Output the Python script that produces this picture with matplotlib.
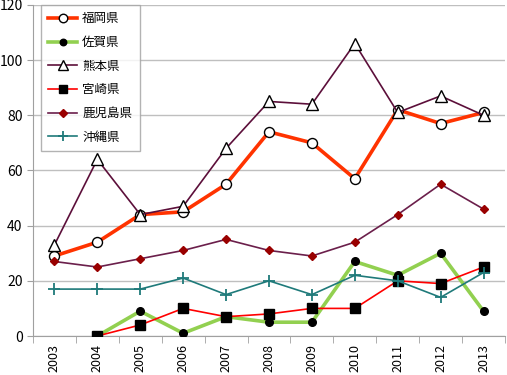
import numpy as np
import matplotlib
matplotlib.use("Agg")
import matplotlib.pyplot as plt

plt.rcParams['font.family'] = ['Noto Sans CJK JP', 'DejaVu Sans']

years = ['2003', '2004', '2005', '2006', '2007', '2008', '2009', '2010', '2011', '2012', '2013']
fukuoka = [29, 34, 44, 45, 55, 74, 70, 57, 82, 77, 81]
saga = [np.nan, 0, 9, 1, 7, 5, 5, 27, 22, 30, 9]
kumamoto = [33, 64, 44, 47, 68, 85, 84, 106, 81, 87, 80]
miyazaki = [np.nan, 0, 4, 10, 7, 8, 10, 10, 20, 19, 25]
kagoshima = [27, 25, 28, 31, 35, 31, 29, 34, 44, 55, 46]
okinawa = [17, 17, 17, 21, 15, 20, 15, 22, 20, 14, 23]

fig = plt.figure(figsize=(5.07, 3.75), dpi=100)
ax = fig.add_axes([0.065, 0.104, 0.931, 0.883])
x = np.arange(len(years))

ax.plot(x, fukuoka, color='#FF3300', lw=2.6, marker='o', ms=7.2, mfc='white', mec='black', mew=1.0, label='福岡県', zorder=3)
ax.plot(x, saga, color='#92D050', lw=2.6, marker='o', ms=5.5, mfc='black', mec='black', label='佐賀県', zorder=3)
ax.plot(x, kumamoto, color='#5C0F3A', lw=1.2, marker='^', ms=8, mfc='white', mec='black', mew=1.0, label='熊本県', zorder=3)
ax.plot(x, miyazaki, color='#FF0000', lw=1.2, marker='s', ms=7, mfc='black', mec='black', label='宮崎県', zorder=3)
ax.plot(x, kagoshima, color='#6B1F4B', lw=1.2, marker='D', ms=4.5, mfc='#990000', mec='#990000', label='鹿児島県', zorder=3)
ax.plot(x, okinawa, color='#1F7A7A', lw=1.2, marker='+', ms=8.5, mew=1.3, mec='#1F7A7A', label='沖縄県', zorder=3)

ax.set_xlim(-0.5, len(years) - 0.5)
ax.set_ylim(0, 120)
ax.set_yticks(range(0, 121, 20))
ax.set_xticks(x)
ax.set_xticklabels(years, rotation=90, fontsize=9)
ax.tick_params(axis='x', length=0, pad=6)
ax.set_xticks(np.arange(-0.5, len(years)), minor=True)
ax.tick_params(axis='x', which='minor', length=5, color='#A0A0A0')
ax.tick_params(axis='y', labelsize=10, length=4, color='#A0A0A0')
ax.grid(axis='y', color='#BFBFBF', lw=1)
ax.set_axisbelow(True)
for s in ['top', 'right']:
    ax.spines[s].set_visible(False)
for s in ['left', 'bottom']:
    ax.spines[s].set_color('#A0A0A0')

leg = ax.legend(loc='upper left', bbox_to_anchor=(0.017, 1.0), fontsize=9, frameon=True,
                fancybox=False, edgecolor='#A0A0A0', handlelength=2.3, labelspacing=0.85,
                borderpad=0.6, markerscale=0.85, handletextpad=0.4, borderaxespad=0)
leg.get_frame().set_linewidth(1)

fig.savefig('out.png', dpi=100)
